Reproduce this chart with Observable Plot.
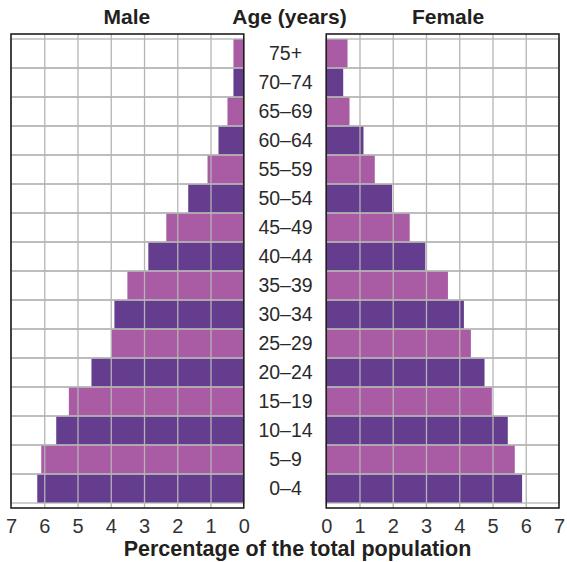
<!DOCTYPE html>
<html>
<head>
<meta charset="utf-8">
<script src="https://cdn.jsdelivr.net/npm/d3@7"></script>
<script src="https://cdn.jsdelivr.net/npm/@observablehq/plot@0.6"></script>
<style>
  html, body { margin: 0; padding: 0; background: #fff; }
  #chart svg { display: block; }
</style>
</head>
<body>
<div id="chart"></div>
<script>
// ---- data ----
const ages = ["0–4","5–9","10–14","15–19","20–24","25–29","30–34","35–39","40–44","45–49","50–54","55–59","60–64","65–69","70–74","75+"];
const male = [6.21,6.09,5.64,5.26,4.58,3.98,3.89,3.50,2.87,2.33,1.67,1.09,0.76,0.49,0.31,0.31];
const female = [5.89,5.67,5.46,4.98,4.76,4.35,4.14,3.66,2.98,2.51,1.98,1.46,1.12,0.70,0.51,0.64];
const tickValues = [0,1,2,3,4,5,6,7];
const panelTitles = ["Male","Female"];
const centerTitle = "Age (years)";
const xTitle = "Percentage of the total population";

// ---- style ----
const PURPLE = "#653d8e";
const PINK = "#a95ca3";
const GRID = "#b4b4b4";
const FRAME = "#231f20";
const FONT = "'Liberation Sans', Arial, Helvetica, sans-serif";
const H = 1.24;   // half gap between the panels, in x units
const MAX = 7;

const rows = ages.map((age, i) => ({
  age,
  male: male[i],
  female: female[i],
  shade: i % 2 === 0 ? "dark" : "light"
}));
const sides = [{side: "male", s: -1, title: panelTitles[0]}, {side: "female", s: 1, title: panelTitles[1]}];
const gridRows = sides.flatMap(p => ages.map(age => ({age, s: p.s})));
const inner = tickValues.filter(t => t > 0 && t < MAX);
const vLines = sides.flatMap(p => inner.map(t => p.s * (H + t)));
const tickLabels = sides.flatMap(p => tickValues.map(t => ({x: p.s * (H + t), t})));

const chart = Plot.plot({
  width: 567,
  height: 562,
  marginTop: 34,
  marginBottom: 54,
  marginLeft: 11,
  marginRight: 8,
  style: {fontFamily: FONT, background: "#fff"},
  x: {domain: [-(MAX + H), MAX + H], axis: null},
  y: {domain: ages.slice().reverse(), padding: 0, axis: null},
  color: {domain: ["dark", "light"], range: [PURPLE, PINK]},
  marks: [
    // bars
    Plot.barX(rows, {y: "age", x1: () => -H, x2: d => -H - d.male, fill: "shade"}),
    Plot.barX(rows, {y: "age", x1: () => H, x2: d => H + d.female, fill: "shade"}),
    // horizontal grid (row cells)
    Plot.barX(gridRows, {y: "age", x1: d => d.s * H, x2: d => d.s * (H + MAX), fill: "none", stroke: GRID, strokeWidth: 1.3}),
    // vertical grid
    Plot.ruleX(vLines, {stroke: GRID, strokeWidth: 1.3}),
    // panel frames
    Plot.barX(sides, {x1: d => d.s * H, x2: d => d.s * (H + MAX), fill: "none", stroke: FRAME, strokeWidth: 1.6}),
    // age labels
    Plot.text(rows, {x: () => 0, y: "age", text: "age", fontSize: 19.5, fill: "#2a2a2a", lineAnchor: "middle"}),
    // tick labels
    Plot.text(tickLabels, {x: "x", text: d => String(d.t), frameAnchor: "bottom", lineAnchor: "middle", dy: 18.5, fontSize: 20, fill: "#333"}),
    // panel titles
    Plot.text([sides[0]], {x: d => d.s * (H + MAX / 2), text: "title", frameAnchor: "top", lineAnchor: "middle", dy: -17, dx: -1, fontSize: 21, fontWeight: "bold", fill: FRAME}),
    Plot.text([sides[1]], {x: d => d.s * (H + MAX / 2), text: "title", frameAnchor: "top", lineAnchor: "middle", dy: -17, dx: 5, fontSize: 21, fontWeight: "bold", fill: FRAME}),
    Plot.text([centerTitle], {x: () => 0, text: d => d, frameAnchor: "top", lineAnchor: "middle", dy: -17, dx: 4, fontSize: 21, fontWeight: "bold", fill: FRAME}),
    // x title
    Plot.text([xTitle], {x: () => 0, text: d => d, frameAnchor: "bottom", lineAnchor: "middle", dy: 41, dx: 12, fontSize: 21.5, fontWeight: "bold", fill: FRAME})
  ]
});
document.getElementById("chart").appendChild(chart);
</script>
</body>
</html>
